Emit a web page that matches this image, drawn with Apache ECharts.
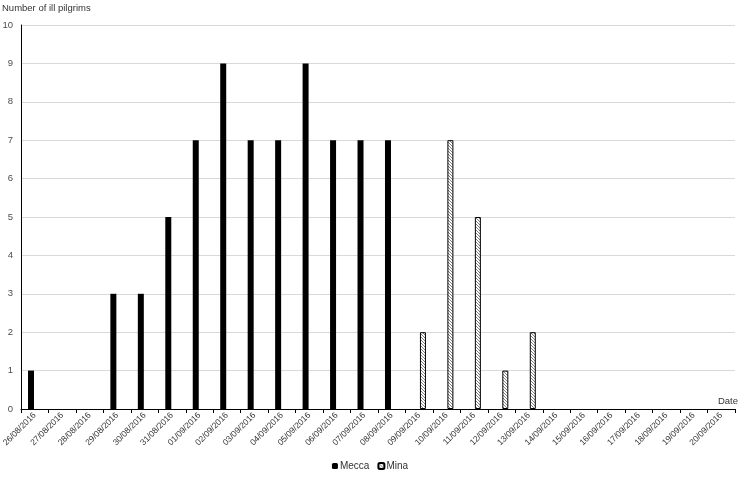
<!DOCTYPE html>
<html>
<head>
<meta charset="utf-8">
<script src="https://cdn.jsdelivr.net/npm/echarts@6/dist/echarts.min.js"></script>
<style>
  html, body { margin: 0; padding: 0; background: #fff; }
  #chart { width: 740px; height: 479px; }
</style>
</head>
<body>
<div id="chart"></div>
<script>
// dates on the x axis
var dates = ['26/08/2016', '27/08/2016', '28/08/2016', '29/08/2016', '30/08/2016', '31/08/2016',
    '01/09/2016', '02/09/2016', '03/09/2016', '04/09/2016', '05/09/2016', '06/09/2016', '07/09/2016',
    '08/09/2016', '09/09/2016', '10/09/2016', '11/09/2016', '12/09/2016', '13/09/2016', '14/09/2016',
    '15/09/2016', '16/09/2016', '17/09/2016', '18/09/2016', '19/09/2016', '20/09/2016'];
// ill pilgrims per day
var mecca = [1, 0, 0, 3, 3, 5, 7, 9, 7, 7, 9, 7, 7, 7, 0, 0, 0, 0, 0, 0, 0, 0, 0, 0, 0, 0];
var mina = [0, 0, 0, 0, 0, 0, 0, 0, 0, 0, 0, 0, 0, 0, 2, 7, 5, 1, 2, 0, 0, 0, 0, 0, 0, 0];

var font = '"Liberation Sans", Arial, sans-serif';

// 0 的天不画柱子（否则边框会留下小点）
function noZero(arr) {
    return arr.map(function(v) { return v === 0 ? '-' : v; });
}

// 斜线填充
function hatch() {
    var c = document.createElement('canvas');
    c.width = 3;
    c.height = 3;
    var ctx = c.getContext('2d');
    ctx.fillStyle = '#fff';
    ctx.fillRect(0, 0, 3, 3);
    ctx.strokeStyle = '#808080';
    ctx.lineWidth = 1;
    ctx.beginPath();
    ctx.moveTo(0, 0);
    ctx.lineTo(3, 3);
    ctx.moveTo(-1, 2);
    ctx.lineTo(1, 4);
    ctx.moveTo(2, -1);
    ctx.lineTo(4, 1);
    ctx.stroke();
    return c;
}

var myChart = echarts.init(document.getElementById('chart'));
var option = {
    animation: false,
    backgroundColor: '#fff',
    title: {
        text: 'Number of ill pilgrims',
        left: 2,
        top: 3,
        padding: 0,
        textStyle: { fontFamily: font, fontSize: 9.5, fontWeight: 'normal', color: '#333' }
    },
    legend: {
        bottom: 3,
        left: 'center',
        itemWidth: 6,
        itemHeight: 6,
        itemGap: 8,
        textStyle: { fontFamily: font, fontSize: 10, color: '#333', padding: [0, 0, 0, -3] },
        data: ['Mecca', 'Mina']
    },
    grid: {
        left: 21,
        right: 5,
        top: 25,
        bottom: 70,
        containLabel: false,
        outerBoundsMode: 'none'
    },
    xAxis: {
        type: 'category',
        data: dates,
        name: 'Date',
        nameLocation: 'end',
        nameGap: 3,
        nameTextStyle: {
            fontFamily: font, fontSize: 9.5, color: '#333',
            align: 'right', verticalAlign: 'bottom', padding: [0, 0, 3, 0]
        },
        axisLine: { lineStyle: { color: '#000', width: 1 } },
        axisTick: { show: true, length: 4, lineStyle: { color: '#000' } },
        axisLabel: {
            interval: 0,
            rotate: 45,
            margin: 5,
            fontFamily: font,
            fontSize: 8.5,
            color: '#333'
        }
    },
    yAxis: {
        type: 'value',
        min: 0,
        max: 10,
        interval: 1,
        axisLine: { show: true, lineStyle: { color: '#000', width: 1 } },
        axisTick: { show: false },
        axisLabel: { fontFamily: font, fontSize: 9.5, color: '#4d4d4d', margin: 8 },
        splitLine: { lineStyle: { color: '#d9d9d9' } }
    },
    series: [{
        name: 'Mecca',
        type: 'bar',
        data: noZero(mecca),
        barWidth: 6,
        barGap: '25%',
        itemStyle: { color: '#000' }
    }, {
        name: 'Mina',
        type: 'bar',
        data: noZero(mina),
        barWidth: 6,
        itemStyle: {
            color: { image: hatch(), repeat: 'repeat' },
            borderColor: '#000',
            borderWidth: 1
        }
    }]
};
myChart.setOption(option);
</script>
</body>
</html>
